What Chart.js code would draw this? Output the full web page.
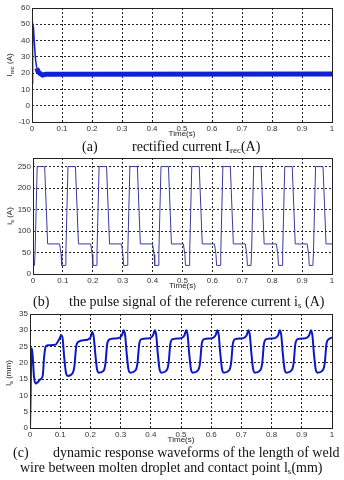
<!DOCTYPE html>
<html>
<head>
<meta charset="utf-8">
<script src="https://cdn.jsdelivr.net/npm/chart.js@4.4.1/dist/chart.umd.min.js"></script>
<style>
  html, body { margin: 0; padding: 0; background: #fff; }
  body { width: 344px; height: 480px; position: relative; overflow: hidden; }
  .box { position: absolute; left: 0; width: 344px; }
  .cap { position: absolute; font-family: "Liberation Serif", serif; font-size: 14px; line-height: 16px; color: #111; white-space: pre; }
  .cap sub { font-size: 9px; vertical-align: -2px; line-height: 0; }
  .ylab { position: absolute; font-family: "Liberation Sans", Arial, sans-serif; font-size: 8px; color: #222; white-space: pre; transform: translate(-50%, -50%) rotate(-90deg); line-height: 10px; }
  .ylab sub { font-size: 6px; vertical-align: -2px; line-height: 0; }
</style>
</head>
<body>

<div class="box" style="top:0;height:140px"><canvas id="chartA"></canvas></div>
<div class="box" style="top:150px;height:142px"><canvas id="chartB"></canvas></div>
<div class="box" style="top:306px;height:140px"><canvas id="chartC"></canvas></div>

<div class="ylab" style="left:10px;top:65px">I<sub>rec</sub> (A)</div>
<div class="ylab" style="left:10px;top:216px">i<sub>s</sub> (A)</div>
<div class="ylab" style="left:9px;top:373px">l<sub>s</sub> (mm)</div>

<div class="cap" style="left:82px;top:139px">(a)</div>
<div class="cap" style="left:132px;top:139px">rectified current I<sub>rec</sub>(A)</div>
<div class="cap" style="left:33px;top:294px">(b)</div>
<div class="cap" style="left:69px;top:294px">the pulse signal of the reference current i<sub>s</sub> (A)</div>
<div class="cap" style="left:13px;top:445px">(c)</div>
<div class="cap" style="left:53px;top:445px">dynamic response waveforms of the length of weld</div>
<div class="cap" style="left:20px;top:460px">wire between molten droplet and contact point l<sub>s</sub>(mm)</div>

<script>
// tick labels shared by all three time axes
var X_TICKS = ['0', '0.1', '0.2', '0.3', '0.4', '0.5', '0.6', '0.7', '0.8', '0.9', '1'];

// (a) rectified current: start-up spike, then the rippled steady band
var recSpikeT = [0, 0.001, 0.002, 0.003, 0.005, 0.008, 0.012, 0.016];
var recSpikeI = [14, 30, 48, 50.5, 48, 38, 28, 23];
var recBandT = [0.016, 0.02, 0.025, 0.035, 0.045, 1];
var recBandI = [23, 21, 20, 18.8, 19.3, 19.5];

// (b) reference current pulse train
var refT = [
  0, 0.005, 0.007, 0.014, 0.039, 0.049,
  0.089, 0.094, 0.096, 0.108, 0.110, 0.117, 0.142, 0.152,
  0.193, 0.198, 0.200, 0.212, 0.214, 0.221, 0.246, 0.256,
  0.296, 0.301, 0.303, 0.315, 0.317, 0.324, 0.349, 0.359,
  0.400, 0.405, 0.407, 0.419, 0.421, 0.428, 0.453, 0.463,
  0.503, 0.508, 0.510, 0.522, 0.524, 0.531, 0.556, 0.566,
  0.607, 0.612, 0.614, 0.626, 0.628, 0.635, 0.660, 0.670,
  0.710, 0.715, 0.717, 0.729, 0.731, 0.738, 0.763, 0.773,
  0.814, 0.819, 0.821, 0.833, 0.835, 0.842, 0.867, 0.877,
  0.917, 0.922, 0.924, 0.936, 0.938, 0.945, 0.970, 0.980,
  1
];
var refI = [
  20, 20, 50, 250, 250, 70,
  70, 45, 20, 20, 50, 250, 250, 70,
  70, 45, 20, 20, 50, 250, 250, 70,
  70, 45, 20, 20, 50, 250, 250, 70,
  70, 45, 20, 20, 50, 250, 250, 70,
  70, 45, 20, 20, 50, 250, 250, 70,
  70, 45, 20, 20, 50, 250, 250, 70,
  70, 45, 20, 20, 50, 250, 250, 70,
  70, 45, 20, 20, 50, 250, 250, 70,
  70, 45, 20, 20, 50, 250, 250, 70,
  70
];

// (c) wire length l_s
var lenT = [
  0, 0.002, 0.004, 0.006, 0.009, 0.013, 0.018, 0.025, 0.035, 0.042, 0.047, 0.052, 0.060, 0.085,
  0.092, 0.098, 0.103, 0.108, 0.113, 0.119, 0.125, 0.141, 0.147, 0.153, 0.161, 0.183,
  0.194, 0.201, 0.206, 0.211, 0.216, 0.222, 0.228, 0.244, 0.250, 0.256, 0.264, 0.286,
  0.298, 0.305, 0.310, 0.315, 0.320, 0.326, 0.332, 0.350, 0.356, 0.362, 0.370, 0.390,
  0.401, 0.408, 0.413, 0.418, 0.423, 0.429, 0.435, 0.453, 0.459, 0.465, 0.473, 0.493,
  0.505, 0.512, 0.517, 0.522, 0.527, 0.533, 0.539, 0.557, 0.563, 0.569, 0.577, 0.597,
  0.608, 0.615, 0.620, 0.625, 0.630, 0.636, 0.642, 0.660, 0.666, 0.672, 0.680, 0.700,
  0.711, 0.718, 0.723, 0.728, 0.733, 0.739, 0.745, 0.763, 0.769, 0.775, 0.783, 0.803,
  0.815, 0.822, 0.827, 0.832, 0.837, 0.843, 0.849, 0.867, 0.873, 0.879, 0.887, 0.907,
  0.918, 0.925, 0.930, 0.935, 0.940, 0.946, 0.952, 0.970, 0.976, 0.982, 0.990, 1
];
var lenMm = [
  0, 10, 22, 24.5, 22, 16, 13.7, 14, 15, 16, 22, 25, 25.4, 25.6,
  26.5, 27.5, 28.5, 27.5, 22, 17, 16, 16.8, 19, 25, 26.5, 27,
  27.3, 28, 29.5, 28, 23, 18, 17, 17.6, 20, 26, 27.2, 27.5,
  27.8, 28.6, 30, 28.5, 23, 18, 17, 17.8, 20, 26, 27.3, 27.5,
  27.8, 28.6, 30, 28.5, 23, 18, 17, 17.8, 20, 26, 27.3, 27.5,
  27.8, 28.6, 30, 28.5, 23, 18, 17, 17.8, 20, 26, 27.3, 27.5,
  27.8, 28.6, 30, 28.5, 23, 18, 17, 17.8, 20, 26, 27.3, 27.5,
  27.8, 28.6, 30, 28.5, 23, 18, 17, 17.8, 20, 26, 27.3, 27.5,
  27.8, 28.6, 30, 28.5, 23, 18, 17, 17.8, 20, 26, 27.3, 27.5,
  27.8, 28.6, 30, 28.5, 23, 18, 17, 17.8, 20, 26, 27.3, 27.8
];

function toPoints(xs, ys) {
  var pts = [];
  for (var i = 0; i < xs.length; i++) pts.push({ x: xs[i], y: ys[i] });
  return pts;
}

// black frame round the plot area, like the matlab box
var framePlugin = {
  id: 'frame',
  afterDraw: function (chart) {
    var a = chart.chartArea, ctx = chart.ctx;
    ctx.save();
    ctx.strokeStyle = '#222';
    ctx.lineWidth = 1;
    ctx.strokeRect(Math.round(a.left) + 0.5, Math.round(a.top) + 0.5,
      Math.round(a.right - a.left), Math.round(a.bottom - a.top));
    ctx.restore();
  }
};

var TICK_FONT = { family: '"Liberation Sans", Arial, sans-serif', size: 8 };

function makeOptions(yMin, yMax, yStep, yWidth) {
  return {
    responsive: true,
    maintainAspectRatio: false,
    animation: false,
    layout: { padding: { top: 8, right: 12, left: 0, bottom: 0 } },
    plugins: { legend: { display: false }, tooltip: { enabled: false } },
    elements: { point: { radius: 0 } },
    scales: {
      x: {
        type: 'linear',
        min: 0,
        max: 1,
        grid: { color: '#222', lineWidth: 1, drawTicks: false },
        border: { display: false, dash: [2, 2] },
        ticks: {
          stepSize: 0.1,
          padding: 2,
          maxRotation: 0,
          autoSkip: false,
          color: '#333',
          font: TICK_FONT,
          callback: function (v) { return X_TICKS[Math.round(v * 10)]; }
        },
        title: {
          display: true,
          text: 'Time(s)',
          color: '#222',
          font: TICK_FONT,
          padding: { top: 0, bottom: 1 }
        },
        afterFit: function (s) { s.height = 18; }
      },
      y: {
        min: yMin,
        max: yMax,
        grid: { color: '#222', lineWidth: 1, drawTicks: false },
        border: { display: false, dash: [2, 2] },
        ticks: {
          stepSize: yStep,
          includeBounds: false,
          padding: 2,
          color: '#333',
          font: TICK_FONT
        },
        afterFit: function (s) { s.width = yWidth; }
      }
    }
  };
}

function init() {
  new Chart(document.getElementById('chartA'), {
    type: 'line',
    data: {
      datasets: [
        { data: toPoints(recSpikeT, recSpikeI), borderColor: '#1020d8', borderWidth: 1.5, fill: false },
        { data: toPoints(recBandT, recBandI), borderColor: '#1020d8', borderWidth: 5, fill: false }
      ]
    },
    options: makeOptions(-10, 60, 10, 32),
    plugins: [framePlugin]
  });

  new Chart(document.getElementById('chartB'), {
    type: 'line',
    data: {
      datasets: [
        { data: toPoints(refT, refI), borderColor: '#3a3aa0', borderWidth: 1, fill: false }
      ]
    },
    options: makeOptions(0, 270, 50, 33),
    plugins: [framePlugin]
  });

  new Chart(document.getElementById('chartC'), {
    type: 'line',
    data: {
      datasets: [
        { data: toPoints(lenT, lenMm), borderColor: '#0c18c8', borderWidth: 2, fill: false,
          cubicInterpolationMode: 'monotone' }
      ]
    },
    options: makeOptions(0, 35, 5, 30),
    plugins: [framePlugin]
  });
}

if (document.readyState === 'loading') {
  document.addEventListener('DOMContentLoaded', init);
} else {
  init();
}
</script>
</body>
</html>
